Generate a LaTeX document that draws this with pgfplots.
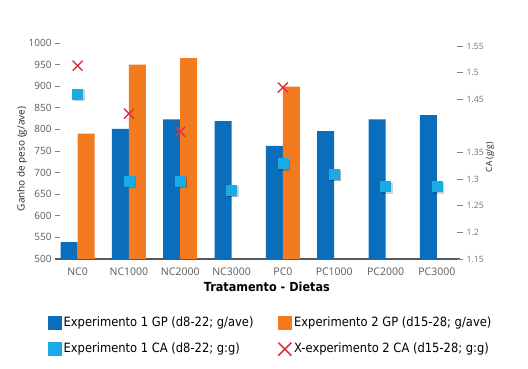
\documentclass[border=0pt]{standalone}
\usepackage{fontspec}
\setmainfont{DejaVu Sans}
\newfontfamily\osans{Open Sans}
\newfontfamily\legfont[FakeStretch=0.9]{DejaVu Sans}
\usepackage{pgfplots}
\pgfplotsset{compat=1.18}
\definecolor{bblue}{HTML}{0A6EBD}
\definecolor{borange}{HTML}{F47A20}
\definecolor{bcyan}{HTML}{1AAAE6}
\definecolor{bred}{HTML}{D9343F}
\begin{document}
\begin{tikzpicture}
\useasboundingbox (0,0) rectangle (528pt,369pt);
\begin{axis}[
 at={(55pt,110pt)}, anchor=south west,
 width=405pt, height=216pt, scale only axis,
 xmin=-0.44, xmax=7.45, ymin=500, ymax=1000,
 axis x line*=bottom, axis y line*=left,
 x axis line style={draw=black!65, line width=1.2pt, -},
 y axis line style={draw=none},
 xtick={0,...,7},
 xticklabels={NC0,NC1000,NC2000,NC3000,PC0,PC1000,PC2000,PC3000},
 x tick style={draw=none},
 ytick={500,550,...,1000},
 y tick style={draw=black!50, line width=0.6pt},
 tick align=inside, major tick length=5pt,
 xticklabel style={font=\osans\fontsize{10.5}{12}\selectfont, text=black!65, yshift=-5pt},
 yticklabel style={font=\osans\fontsize{10}{12}\selectfont, text=black!65},
 /pgf/number format/assume math mode=true,
 /pgf/number format/1000 sep={},
 xlabel={Tratamento - Dietas},
 xlabel style={font=\legfont\bfseries\fontsize{12.5}{14}\selectfont, at={(axis description cs:0.523,-0.13)}, anchor=center},
 ylabel={Ganho de peso (g/ave)},
 ylabel style={font=\osans\fontsize{10}{12}\selectfont, text=black!85, at={(axis description cs:-0.0815,0.463)}, anchor=center},
]
\addplot[ybar, bar width=17pt, bar shift=-8.5pt, fill=bblue, draw=none] coordinates {(0,539) (1,801) (2,823) (3,819) (4,762) (5,796) (6,823) (7,833)};
\addplot[ybar, bar width=17pt, bar shift=8.5pt, fill=borange, draw=none] coordinates {(0,790) (1,950) (2,965) (4,899)};
\end{axis}
\begin{axis}[
 at={(55pt,110pt)}, anchor=south west,
 width=405pt, height=216pt, scale only axis,
 xmin=-0.44, xmax=7.45, ymin=1.15, ymax=1.5556,
 axis x line=none, axis y line*=right,
 y axis line style={draw=none},
 ytick={1.15,1.2,1.25,1.3,1.35,1.45,1.5,1.55},
 yticklabel style={font=\osans\fontsize{8.7}{10}\selectfont, text=black!55, /pgf/number format/fixed, /pgf/number format/precision=2},
 /pgf/number format/assume math mode=true,
 y tick style={draw=black!50, line width=0.6pt},
 tick align=center, major tick length=6pt,
 ylabel={CA (g/g)},
 ylabel style={font=\osans\fontsize{8.5}{10}\selectfont, text=black!85, at={(axis description cs:1.074,0.472)}, anchor=center},
 legend columns=2,
 legend cell align=left,
 legend style={at={(axis description cs:-0.0247,-0.25)}, anchor=north west, draw=none, fill=none,
   font=\legfont\fontsize{12.8}{15}\selectfont, row sep=10pt,
   nodes={inner sep=2pt, text height=9pt, text depth=3pt},
   /tikz/every even column/.append style={column sep=22pt}},
]
\addlegendimage{legend image code/.code={\fill[bblue] (0pt,-6.5pt) rectangle (13pt,6.5pt);}}
\addlegendentry{Experimento 1 GP (d8-22; g/ave)}
\addlegendimage{legend image code/.code={\fill[borange] (0pt,-6.5pt) rectangle (13pt,6.5pt);}}
\addlegendentry{Experimento 2 GP (d15-28; g/ave)}
\addplot[forget plot, only marks, mark=square*, mark size=5pt, color=black, opacity=0.18, mark options={xshift=1.3pt, yshift=-1.3pt}] coordinates {(0,1.460) (1,1.297) (2,1.297) (3,1.279) (4,1.329) (5,1.309) (6,1.286) (7,1.286)};
\addplot[only marks, mark=square*, mark size=5pt, color=bcyan, mark options={draw=bcyan, fill=bcyan},
  legend image code/.code={\fill[bcyan] (0pt,-6.5pt) rectangle (13pt,6.5pt);}] coordinates {(0,1.460) (1,1.297) (2,1.297) (3,1.279) (4,1.329) (5,1.309) (6,1.286) (7,1.286)};
\addlegendentry{Experimento 1 CA (d8-22; g:g)}
\addplot[only marks, mark=x, mark size=7pt, color=bred, mark options={draw=bred, line width=1.4pt},
  legend image code/.code={\draw[bred, line width=1.6pt] (0.5pt,-6.5pt) -- (13.5pt,6.5pt) (0.5pt,6.5pt) -- (13.5pt,-6.5pt);}] coordinates {(0,1.513) (1,1.423) (2,1.389) (4,1.472)};
\addlegendentry{X-experimento 2 CA (d15-28; g:g)}
\end{axis}
\end{tikzpicture}
\end{document}
